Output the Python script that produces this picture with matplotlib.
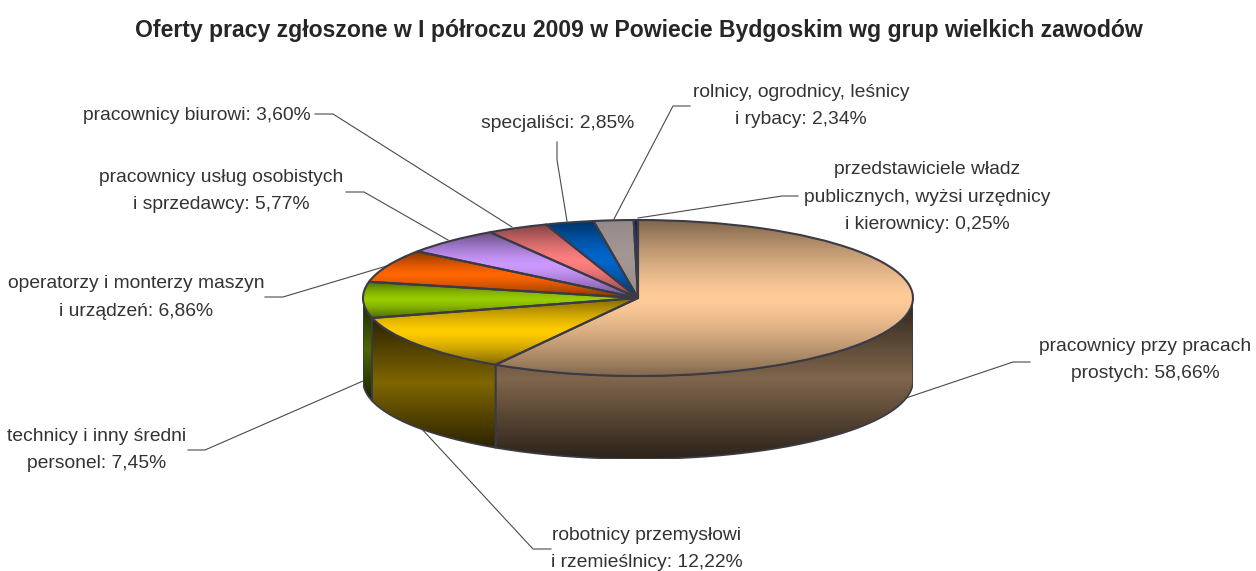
import numpy as np
import matplotlib
matplotlib.use("Agg")
import matplotlib.pyplot as plt
from matplotlib.colors import to_rgb
from matplotlib.path import Path
from matplotlib.patches import PathPatch

plt.rcParams['font.family'] = ['Liberation Sans', 'DejaVu Sans']

TITLE = "Oferty pracy zgłoszone w I półroczu 2009 w Powiecie Bydgoskim wg grup wielkich zawodów"
names = ["pracownicy przy pracach\nprostych", "robotnicy przemysłowi\ni rzemieślnicy",
         "technicy i inny średni\npersonel", "operatorzy i monterzy maszyn\ni urządzeń",
         "pracownicy usług osobistych\ni sprzedawcy", "pracownicy biurowi", "specjaliści",
         "rolnicy, ogrodnicy, leśnicy\ni rybacy",
         "przedstawiciele władz\npublicznych, wyżsi urzędnicy\ni kierownicy"]
values = [58.66, 12.22, 7.45, 6.86, 5.77, 3.60, 2.85, 2.34, 0.25]
colors = ["#FFCC99", "#FFCC00", "#99CC00", "#FF6600", "#CC99FF", "#FF8080", "#0066CC", "#A39794", "#333399"]
top_shade = [0.5, 0.5, 0.5, 0.5, 0.5, 0.5, 0.5, 0.9, 0.5]

# label centre positions (px) and leader-line routes (px)
label_pos = [(1145, 360), (647, 549), (97, 450), (136, 297.5), (221, 191), (197, 115), (558, 123), (801, 106), (927, 197)]
leaders = [[(1030, 362), (1013, 362), (906, 398)],
           [(551, 549), (533, 549), (420, 427)],
           [(188, 450), (205, 450), (363, 381)],
           [(265, 297), (283, 297), (390, 265)],
           [(346, 192), (364, 192), (448, 240)],
           [(315, 114), (333, 114), (512, 227)],
           [(557, 142), (557, 160), (567, 221)],
           [(690, 106), (673, 106), (614, 219)],
           [(798, 196), (782, 196), (638, 218)]]

W, H = 1256, 571
EDGE = "#3B3B46"
TEXT = "#333333"
CX, CY, RX, RY, DEPTH = 638, 298, 275, 78, 83

fig = plt.figure(figsize=(W / 100, H / 100), dpi=100, facecolor="white")
ov = fig.add_axes([0, 0, 1, 1])
ov.set_xlim(0, W)
ov.set_ylim(H, 0)
ov.axis("off")

ov.text(638.5, 30, TITLE, ha="center", va="center", fontsize=16.6, fontweight="bold", color="#262626")
for name, v, (x, y), route in zip(names, values, label_pos, leaders):
    ov.text(x, y, f"{name}: {v:.2f}%".replace(".", ","), ha="center", va="center",
            fontsize=13.9, color=TEXT, linespacing=1.83, multialignment="center")
    ov.plot(*zip(*route), color="#4A4A4A", lw=0.8, solid_joinstyle="miter")

ax = fig.add_axes([(CX - RX) / W, 1 - (CY + RY + DEPTH) / H, 2 * RX / W, (2 * RY + DEPTH) / H])
ax.patch.set_alpha(0)
d = DEPTH / RY


def gradient(col, lo, hi, power=1.0):
    u = np.linspace(-1, 1, 256)
    f = (hi + (lo - hi) * np.abs(u) ** power)[:, None, None]
    return np.clip(np.array(to_rgb(col))[None, None, :] * f, 0, 1)


# side walls
edges = np.concatenate([[0], np.cumsum(values)]) / sum(values) * 360
for a0, a1, c in zip(edges[:-1], edges[1:], colors):
    lo, hi = max(a0, 90), min(a1, 270)
    if hi <= lo:
        continue
    t = np.radians(np.linspace(lo, hi, 120))
    x, y = np.sin(t), np.cos(t)
    pts = np.r_[np.c_[x, y], np.c_[x, y - d][::-1], [[x[0], y[0]]]]
    patch = PathPatch(Path(pts), facecolor="none", edgecolor=EDGE, lw=1.2, zorder=2)
    ax.add_patch(patch)
    im = ax.imshow(gradient(c, 0.17, 0.5), extent=(x.min(), x.max(), (y - d).min(), y.max()),
                   origin="lower", aspect="auto", zorder=1, interpolation="bilinear")
    im.set_clip_path(patch)

# top face
wedges, _ = ax.pie(values, colors=colors, startangle=90, counterclock=False, radius=1,
                   wedgeprops=dict(edgecolor=EDGE, linewidth=1.5, zorder=4))
for w, c, s in zip(wedges, colors, top_shade):
    w.set_facecolor("none")
    w.set_joinstyle("round")
    v = w.get_patch_transform().transform_path(w.get_path()).vertices
    im = ax.imshow(gradient(c, s, 1.0, 1.4), extent=(v[:, 0].min(), v[:, 0].max(), v[:, 1].min(), v[:, 1].max()),
                   origin="lower", aspect="auto", zorder=3, interpolation="bilinear")
    im.set_clip_path(w)

ax.set_aspect("auto")
ax.set_xlim(-1, 1)
ax.set_ylim(-1 - d, 1)
ax.axis("off")

fig.savefig("out.png", dpi=100)
